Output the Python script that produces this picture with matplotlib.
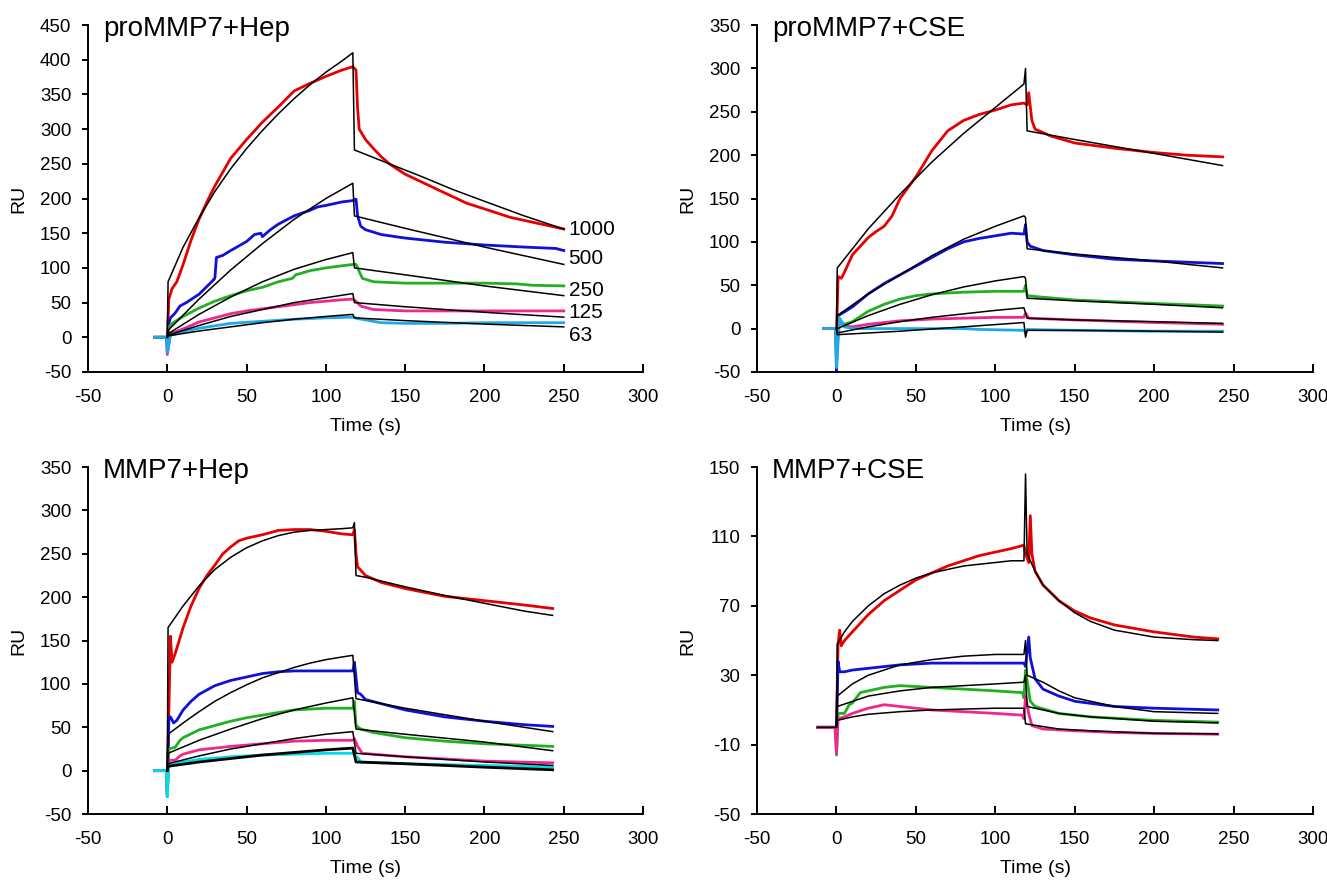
import matplotlib
matplotlib.use("Agg")
import matplotlib.pyplot as plt

plt.rcParams["font.family"] = ["Liberation Sans", "DejaVu Sans"]
plt.rcParams["axes.unicode_minus"] = False

# colours of the concentration series
c_red = "#e60000"
c_blue = "#1010d8"
c_green = "#22b022"
c_pink = "#f0288c"
c_cyan = "#1eaae6"
c_cyan2 = "#00dce8"

# ---------------- proMMP7 + Hep ----------------
p1_red = [(-8, 0), (-0.5, 0), (0, -5), (1, 55), (3, 70), (6, 80), (10, 105), (15, 140), (20, 170),
          (25, 195), (30, 218), (40, 258), (50, 285), (60, 310), (70, 332), (80, 355), (90, 366),
          (100, 376), (110, 385), (117, 390), (119, 385), (120, 330), (121, 300), (125, 285),
          (130, 272), (135, 260), (140, 250), (150, 235), (162, 222), (175, 208), (189, 193),
          (200, 185), (216, 173), (230, 166), (250, 156)]
p1_blue = [(-8, 0), (-0.5, 0), (0, -10), (1, 20), (2, 28), (5, 35), (8, 45), (12, 50), (20, 62),
           (28, 80), (30, 85), (31, 115), (35, 118), (40, 125), (50, 138), (55, 148), (59, 150),
           (60, 145), (65, 155), (70, 163), (80, 175), (90, 183), (95, 188), (100, 190), (110, 195),
           (117, 197), (119, 199), (120, 175), (122, 160), (125, 155), (135, 148), (150, 143),
           (175, 137), (200, 133), (225, 130), (245, 128), (250, 125)]
p1_green = [(-8, 0), (-0.5, 0), (0, -15), (1, 15), (3, 20), (10, 30), (20, 42), (30, 52), (40, 60),
            (50, 67), (60, 72), (70, 80), (79, 85), (81, 90), (90, 96), (100, 100), (110, 103),
            (117, 105), (119, 105), (121, 95), (123, 85), (130, 80), (150, 78), (175, 78),
            (200, 78), (220, 77), (230, 75), (250, 74)]
p1_pink = [(-8, 0), (-0.5, 0), (0, -25), (2, 5), (10, 12), (20, 22), (30, 28), (40, 34), (50, 38),
           (60, 41), (70, 44), (80, 47), (90, 50), (100, 52), (110, 54), (117, 55), (119, 52),
           (122, 45), (130, 40), (150, 38), (200, 38), (250, 38)]
p1_cyan = [(-8, 0), (-0.5, 0), (0, -22), (2, 3), (10, 8), (20, 13), (40, 20), (60, 23), (80, 26),
           (100, 28), (117, 29), (120, 27), (125, 25), (135, 21), (150, 20), (175, 20), (200, 21),
           (225, 21), (250, 21)]
p1_fits = [
    [(0, 0), (0.5, 80), (10, 130), (20, 172), (30, 210), (40, 243), (50, 272), (60, 298),
     (70, 322), (80, 344), (90, 364), (100, 382), (110, 398), (117, 410), (118, 270),
     (140, 250), (160, 232), (180, 213), (200, 196), (225, 175), (250, 156)],
    [(0, 0), (0.5, 10), (20, 55), (40, 97), (60, 135), (80, 170), (100, 200), (117, 222),
     (118, 175), (150, 157), (200, 130), (250, 105)],
    [(0, 0), (0.5, 5), (20, 33), (40, 58), (60, 80), (80, 98), (100, 112), (117, 122),
     (118, 100), (150, 90), (200, 74), (250, 60)],
    [(0, 0), (0.5, 3), (20, 17), (40, 30), (60, 40), (80, 50), (100, 57), (117, 63),
     (118, 50), (150, 44), (200, 36), (250, 29)],
    [(0, 0), (0.5, 2), (20, 9), (40, 15), (60, 21), (80, 26), (100, 30), (117, 33),
     (118, 28), (150, 24), (200, 19), (250, 15)],
]
p1_conc = ["1000", "500", "250", "125", "63"]
p1_conc_y = [155, 114, 68, 35, 3]

# ---------------- proMMP7 + CSE ----------------
p2_red = [(-8, 0), (-0.5, 0), (0, -10), (1, 60), (3, 58), (5, 65), (10, 85), (15, 95), (20, 105),
          (25, 112), (30, 118), (35, 130), (40, 150), (50, 175), (60, 205), (70, 228), (80, 240),
          (90, 247), (100, 252), (110, 258), (118, 260), (120, 258), (121, 272), (123, 240),
          (125, 230), (135, 222), (150, 214), (175, 208), (200, 203), (220, 200), (243, 198)]
p2_blue = [(-8, 0), (-0.5, 0), (0, -50), (1, 15), (3, 17), (10, 25), (20, 40), (30, 52), (40, 62),
           (50, 72), (60, 82), (70, 92), (80, 100), (90, 104), (100, 107), (110, 110), (118, 109),
           (119, 120), (120, 100), (122, 95), (130, 90), (150, 85), (175, 80), (200, 78), (243, 75)]
p2_green = [(-8, 0), (-0.5, 0), (0, -40), (1, 13), (3, 8), (5, 5), (10, 8), (20, 20), (30, 28),
            (40, 34), (50, 38), (60, 40), (80, 42), (100, 43), (118, 43), (119, 50), (120, 38),
            (125, 37), (150, 33), (200, 29), (243, 26)]
p2_pink = [(-8, 0), (-0.5, 0), (0, -20), (1, 8), (5, 3), (10, 2), (20, 5), (40, 9), (60, 11),
           (80, 12), (100, 13), (118, 13), (119, 18), (121, 12), (150, 10), (200, 7), (243, 5)]
p2_cyan = [(-8, 0), (-0.5, 0), (0, -45), (2, 12), (5, 2), (10, 0), (30, 0), (60, 0), (80, 0),
           (90, -1), (118, -2), (119, -5), (120, -1), (150, -2), (200, -3), (243, -3)]
p2_fits = [
    [(0, 0), (0.5, 70), (20, 115), (40, 155), (60, 192), (80, 225), (100, 255), (118, 282),
     (119, 300), (120, 228), (150, 218), (200, 202), (243, 188)],
    [(0, 0), (0.5, 15), (20, 40), (40, 62), (60, 84), (80, 103), (100, 118), (118, 130),
     (119, 128), (120, 92), (150, 86), (200, 78), (243, 70)],
    [(0, 0), (0.5, 0), (20, 15), (40, 28), (60, 39), (80, 48), (100, 55), (118, 60),
     (119, 58), (120, 35), (150, 32), (200, 28), (243, 24)],
    [(0, 0), (0.5, -5), (20, 2), (40, 8), (60, 13), (80, 17), (100, 21), (118, 24),
     (120, 12), (150, 10), (200, 8), (243, 6)],
    [(0, 0), (0.5, -7), (40, -3), (80, 2), (118, 7), (119, -10), (120, -2), (150, -2),
     (200, -3), (243, -4)],
]

# ---------------- MMP7 + Hep ----------------
p3_red = [(-8, 0), (-0.5, 0), (0, -10), (1, 70), (2, 155), (3, 125), (5, 135), (10, 165),
          (15, 190), (20, 210), (25, 225), (30, 237), (35, 250), (40, 258), (45, 265), (50, 268),
          (60, 272), (70, 277), (80, 278), (90, 278), (100, 276), (110, 273), (117, 272),
          (118, 278), (119, 250), (120, 235), (125, 225), (135, 217), (150, 210), (175, 201),
          (200, 196), (225, 191), (243, 187)]
p3_blue = [(-8, 0), (-0.5, 0), (0, -30), (1, 60), (2, 62), (4, 55), (6, 58), (10, 70), (15, 80),
           (20, 88), (30, 98), (40, 104), (50, 108), (60, 112), (70, 114), (80, 115), (100, 115),
           (117, 115), (118, 125), (120, 90), (122, 88), (125, 82), (150, 70), (175, 62),
           (200, 57), (225, 53), (243, 51)]
p3_green = [(-8, 0), (-0.5, 0), (0, -28), (1, 25), (5, 27), (8, 35), (10, 38), (20, 47), (30, 52),
            (40, 57), (50, 61), (60, 64), (70, 67), (80, 70), (100, 72), (117, 72), (118, 80),
            (119, 52), (122, 48), (130, 44), (150, 38), (175, 34), (200, 31), (243, 28)]
p3_pink = [(-8, 0), (-0.5, 0), (0, -25), (1, 12), (5, 12), (8, 17), (10, 19), (20, 24), (40, 28),
           (60, 31), (80, 34), (100, 35), (117, 35), (118, 37), (120, 28), (123, 20), (150, 16),
           (200, 11), (243, 9)]
p3_cyan = [(-8, 0), (-0.5, 0), (0, -30), (1, 6), (10, 10), (20, 13), (40, 16), (60, 18), (80, 19),
           (100, 20), (117, 20), (120, 15), (122, 10), (150, 8), (200, 6), (243, 4)]
p3_fits = [
    [(0, 0), (0.5, 165), (10, 190), (20, 213), (30, 232), (40, 246), (50, 257), (60, 265),
     (70, 271), (80, 275), (90, 277), (100, 278), (110, 279), (117, 280), (118, 286),
     (119, 225), (125, 223), (150, 212), (175, 202), (200, 193), (225, 184), (243, 179)],
    [(0, 0), (0.5, 42), (10, 55), (20, 68), (30, 80), (40, 90), (50, 99), (60, 107), (70, 113),
     (80, 119), (90, 124), (100, 128), (110, 131), (117, 133), (119, 83), (150, 72),
     (200, 57), (243, 45)],
    [(0, 0), (0.5, 20), (20, 35), (40, 48), (60, 60), (80, 70), (100, 78), (117, 84),
     (119, 48), (150, 42), (200, 33), (243, 23)],
    [(0, 0), (0.5, 8), (20, 17), (40, 25), (60, 31), (80, 37), (100, 42), (117, 45),
     (119, 20), (150, 16), (200, 10), (243, 6)],
    [(0, 0), (0.5, 5), (20, 10), (40, 14), (60, 18), (80, 21), (100, 24), (117, 26),
     (119, 10), (150, 8), (200, 4), (243, 1)],
]

# ---------------- MMP7 + CSE ----------------
p4_red = [(-12, 0), (-0.5, 0), (0, 0), (1, 48), (2, 56), (3, 47), (5, 50), (10, 55), (20, 65),
          (30, 73), (40, 79), (50, 85), (60, 89), (70, 93), (80, 96), (90, 99), (100, 101),
          (110, 103), (118, 105), (119, 100), (121, 95), (122, 122), (123, 100), (125, 90),
          (130, 82), (140, 73), (150, 67), (160, 63), (175, 59), (200, 55), (225, 52), (240, 51)]
p4_blue = [(-12, 0), (-0.5, 0), (0, 0), (1, 38), (2, 32), (5, 32), (10, 33), (20, 34), (40, 36),
           (60, 37), (80, 37), (100, 37), (118, 37), (119, 35), (121, 52), (122, 40), (125, 28),
           (130, 22), (140, 18), (150, 15), (175, 12), (200, 11), (240, 10)]
p4_green = [(-12, 0), (-0.5, 0), (0, -16), (1, 8), (5, 8), (8, 13), (10, 14), (15, 20), (20, 21),
            (30, 23), (40, 24), (60, 23), (80, 22), (100, 21), (117, 20), (118, 17), (119, 33),
            (120, 27), (122, 15), (125, 12), (140, 8), (160, 6), (200, 4), (240, 3)]
p4_pink = [(-12, 0), (-1, 0), (0, -15), (1, 5), (5, 6), (10, 8), (20, 11), (30, 13), (40, 12),
           (60, 10), (80, 9), (100, 8), (117, 7), (118, 5), (119, 18), (121, 8), (123, 1),
           (130, -1), (150, -2), (175, -3), (200, -3.5), (240, -4)]
p4_fits = [
    [(-12, 0), (0, 0), (0.5, 48), (5, 55), (10, 61), (20, 70), (30, 77), (40, 82), (50, 86),
     (60, 89), (70, 91), (80, 93), (90, 94), (100, 95), (110, 96), (118, 96), (119, 146),
     (120, 100), (125, 90), (130, 82), (140, 73), (150, 66), (160, 61), (175, 56), (200, 52),
     (225, 50.5), (240, 50)],
    [(0, 0), (0.5, 18), (10, 25), (20, 30), (30, 33), (40, 36), (60, 39), (80, 41), (100, 42),
     (118, 42), (119, 50), (120, 30), (130, 26), (140, 21), (150, 17), (175, 12), (200, 9),
     (240, 8)],
    [(0, 0), (0.5, 12), (20, 18), (40, 21), (60, 23), (80, 24), (100, 25), (118, 26),
     (119, 30), (120, 12), (140, 8), (160, 6), (200, 3.5), (240, 2.5)],
    [(0, 0), (0.5, 4), (10, 6), (20, 7.5), (40, 9), (60, 10), (80, 10.5), (100, 11), (118, 11),
     (119, 2), (140, -1), (160, -2), (200, -3.5), (240, -3.8)],
]

panels = [
    dict(title="proMMP7+Hep", pos=[0.0663, 0.5797, 0.4183, 0.392], ylim=(-50, 450),
         yticks=range(-50, 451, 50),
         curves=[(p1_red, c_red), (p1_blue, c_blue), (p1_green, c_green), (p1_pink, c_pink),
                 (p1_cyan, c_cyan)], fits=p1_fits, fit_lw=[1.1] * 5),
    dict(title="proMMP7+CSE", pos=[0.5705, 0.5797, 0.419, 0.392], ylim=(-50, 350),
         yticks=range(-50, 351, 50),
         curves=[(p2_red, c_red), (p2_blue, c_blue), (p2_green, c_green), (p2_pink, c_pink),
                 (p2_cyan, c_cyan)], fits=p2_fits, fit_lw=[1.1] * 5),
    dict(title="MMP7+Hep", pos=[0.0663, 0.0802, 0.4183, 0.392], ylim=(-50, 350),
         yticks=range(-50, 351, 50),
         curves=[(p3_red, c_red), (p3_blue, c_blue), (p3_green, c_green), (p3_pink, c_pink),
                 (p3_cyan, c_cyan2)], fits=p3_fits, fit_lw=[1.1, 1.1, 1.1, 1.1, 2.0]),
    dict(title="MMP7+CSE", pos=[0.5705, 0.0802, 0.419, 0.392], ylim=(-50, 150),
         yticks=range(-50, 151, 40),
         curves=[(p4_red, c_red), (p4_blue, c_blue), (p4_green, c_green), (p4_pink, c_pink)],
         fits=p4_fits, fit_lw=[1.1] * 4),
]

fig = plt.figure(figsize=(13.27, 8.85), dpi=100)

for i, p in enumerate(panels):
    ax = fig.add_axes(p["pos"])
    for pts, col in p["curves"]:
        ax.plot([a for a, b in pts], [b for a, b in pts], color=col, lw=2.0, zorder=2)
    for pts, lw in zip(p["fits"], p["fit_lw"]):
        ax.plot([a for a, b in pts], [b for a, b in pts], color="black", lw=lw, zorder=3)
    ax.set_xlim(-50, 300)
    ax.set_ylim(*p["ylim"])
    ax.set_xticks(range(-50, 301, 50))
    ax.set_yticks(list(p["yticks"]))
    for s in ["top", "right"]:
        ax.spines[s].set_visible(False)
    for s in ["left", "bottom"]:
        ax.spines[s].set_linewidth(1.4)
    ax.tick_params(axis="x", direction="in", length=6, width=1.4, labelsize=13.5, pad=12)
    ax.tick_params(axis="y", direction="out", length=4, width=1.4, labelsize=13.5, pad=8)
    ax.set_xlabel("Time (s)", fontsize=14, labelpad=9)
    ax.set_ylabel("RU", fontsize=14, labelpad=9)
    ax.text(0.027, 0.968, p["title"], transform=ax.transAxes, fontsize=20,
            va="baseline", ha="left")
    if i == 0:
        for lab, yv in zip(p1_conc, p1_conc_y):
            ax.text(253, yv, lab, fontsize=15, va="center", ha="left")

fig.savefig("out.png", dpi=100)
